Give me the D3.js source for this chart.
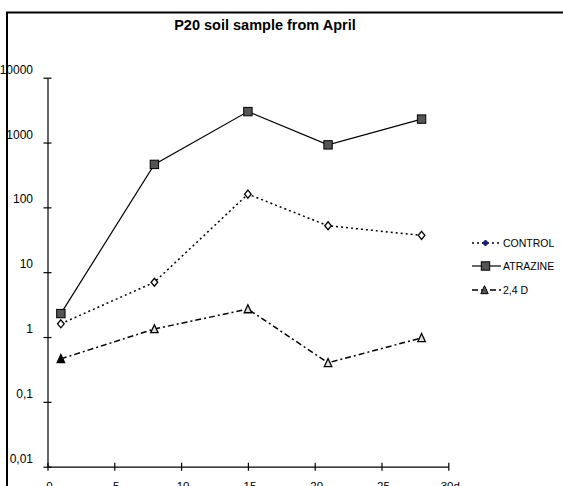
<!DOCTYPE html>
<html><head><meta charset="utf-8">
<script src="https://cdn.jsdelivr.net/npm/d3@7"></script>
<style>
html,body{margin:0;padding:0;background:#fff;overflow:hidden;}
svg{display:block;font-family:"Liberation Sans",Arial,sans-serif;}
</style></head>
<body>
<script>
const title = "P20 soil sample from April";
const days = [1, 8, 15, 21, 28];
const controlValues = [1.6, 7, 160, 52, 37];
const atrazineValues = [2.3, 460, 3000, 920, 2300];
const d24Values = [0.46, 1.33, 2.7, 0.40, 0.97];
const seriesNames = ["CONTROL", "ATRAZINE", "2,4 D"];
const xTicks = [0, 5, 10, 15, 20, 25, 30];
const xTickLabels = ["0", "5", "10", "15", "20", "25", "30d"];
const yTicks = [0.01, 0.1, 1, 10, 100, 1000, 10000];
const yTickLabels = ["0,01", "0,1", "1", "10", "100", "1000", "10000"];

const W = 563, H = 486;
const svg = d3.select("body").append("svg").attr("width", W).attr("height", H);

// frame
svg.append("path").attr("d", "M7,486 V12.5 H563").attr("fill", "none").attr("stroke", "#000").attr("stroke-width", 2);

svg.append("text").attr("x", 265).attr("y", 29.5).attr("text-anchor", "middle")
  .attr("font-size", 14.5).attr("font-weight", "bold").text(title);

const x = d3.scaleLinear().domain([0, 30]).range([47.5, 448.3]);
const y = d3.scaleLog().domain([0.01, 10000]).range([466.7, 77.7]);

// y axis
const yAxis = svg.append("g").attr("transform", "translate(47.5,0)")
  .call(d3.axisLeft(y).tickValues(yTicks).tickSize(0).tickFormat(""));
yAxis.select(".domain").attr("stroke", "#000").attr("stroke-width", 1.2);
yAxis.selectAll(".tick").append("line").attr("x1", -4).attr("x2", 4).attr("stroke", "#000").attr("stroke-width", 1.2);
yAxis.selectAll(".tick").append("text").attr("x", -14.5).attr("y", -4.5).attr("dy", 0)
  .attr("text-anchor", "end").attr("fill", "#000").attr("font-size", 12)
  .text((d, i) => yTickLabels[i]);

// x axis
const xAxis = svg.append("g").attr("transform", `translate(0,${y(0.01)})`)
  .call(d3.axisBottom(x).tickValues(xTicks).tickSize(0).tickFormat(""));
xAxis.select(".domain").attr("stroke", "#000").attr("stroke-width", 1.2);
xAxis.selectAll(".tick").append("line").attr("y1", -4).attr("y2", 4).attr("stroke", "#000").attr("stroke-width", 1.2);
xAxis.selectAll(".tick").append("text").attr("x", 1.5).attr("y", 23.5)
  .attr("text-anchor", "middle").attr("fill", "#000").attr("font-size", 11.5)
  .text((d, i) => xTickLabels[i]);

const line = d3.line().x(d => x(d[0])).y(d => y(d[1]));
const zip = vals => days.map((d, i) => [d, vals[i]]);

const g = svg.append("g");
// lines
g.append("path").datum(zip(d24Values)).attr("d", line).attr("fill", "none")
  .attr("stroke", "#000").attr("stroke-width", 1.5).attr("stroke-dasharray", "6,3,2,3");
g.append("path").datum(zip(controlValues)).attr("d", line).attr("fill", "none")
  .attr("stroke", "#000").attr("stroke-width", 1.5).attr("stroke-dasharray", "2,3");
g.append("path").datum(zip(atrazineValues)).attr("d", line).attr("fill", "none")
  .attr("stroke", "#000").attr("stroke-width", 1.2);

// markers
const diamond = "M0,-4 L3.3,0 L0,4 L-3.3,0 Z";
const tri = "M0,-4.3 L3.7,3.7 L-3.7,3.7 Z";
g.selectAll(".ctl").data(zip(controlValues)).enter().append("path")
  .attr("d", diamond).attr("transform", d => `translate(${x(d[0])},${y(d[1])})`)
  .attr("fill", "#fff").attr("stroke", "#000").attr("stroke-width", 1.3);
g.selectAll(".atr").data(zip(atrazineValues)).enter().append("rect")
  .attr("x", d => x(d[0]) - 4.2).attr("y", d => y(d[1]) - 4.2).attr("width", 8.4).attr("height", 8.4)
  .attr("fill", "#555").attr("stroke", "#000").attr("stroke-width", 1);
g.selectAll(".d24").data(zip(d24Values)).enter().append("path")
  .attr("d", tri).attr("transform", d => `translate(${x(d[0])},${y(d[1])})`)
  .attr("fill", (d, i) => i === 0 ? "#000" : "#ddd").attr("stroke", "#000").attr("stroke-width", 1.3);

// legend
const legY = [243, 266, 290];
const leg = svg.append("g");
const lx1 = 472, lx2 = 501, lm = 485.5;
leg.append("line").attr("x1", lx1).attr("x2", lx2).attr("y1", legY[0]).attr("y2", legY[0])
  .attr("stroke", "#000").attr("stroke-width", 1.5).attr("stroke-dasharray", "2,3");
leg.append("path").attr("d", "M0,-3 L3,0 L0,3 L-3,0 Z").attr("transform", `translate(${lm},${legY[0]})`)
  .attr("fill", "#1a1a80").attr("stroke", "#1a1a80").attr("stroke-width", 1);
leg.append("line").attr("x1", lx1).attr("x2", lx2).attr("y1", legY[1]).attr("y2", legY[1])
  .attr("stroke", "#000").attr("stroke-width", 1.2);
leg.append("rect").attr("x", lm - 4.2).attr("y", legY[1] - 4.2).attr("width", 8.4).attr("height", 8.4)
  .attr("fill", "#555").attr("stroke", "#000").attr("stroke-width", 1);
leg.append("line").attr("x1", lx1).attr("x2", lx2).attr("y1", legY[2]).attr("y2", legY[2])
  .attr("stroke", "#000").attr("stroke-width", 1.6).attr("stroke-dasharray", "6,3");
leg.append("path").attr("d", tri).attr("transform", `translate(${lm - 1},${legY[2]})`)
  .attr("fill", "#555").attr("stroke", "#000").attr("stroke-width", 1);
leg.selectAll(".lt").data(seriesNames).enter().append("text")
  .attr("x", 503).attr("y", (d, i) => legY[i] + 3.8).attr("font-size", 10.5).attr("fill", "#000")
  .text(d => d);
</script>
</body></html>
